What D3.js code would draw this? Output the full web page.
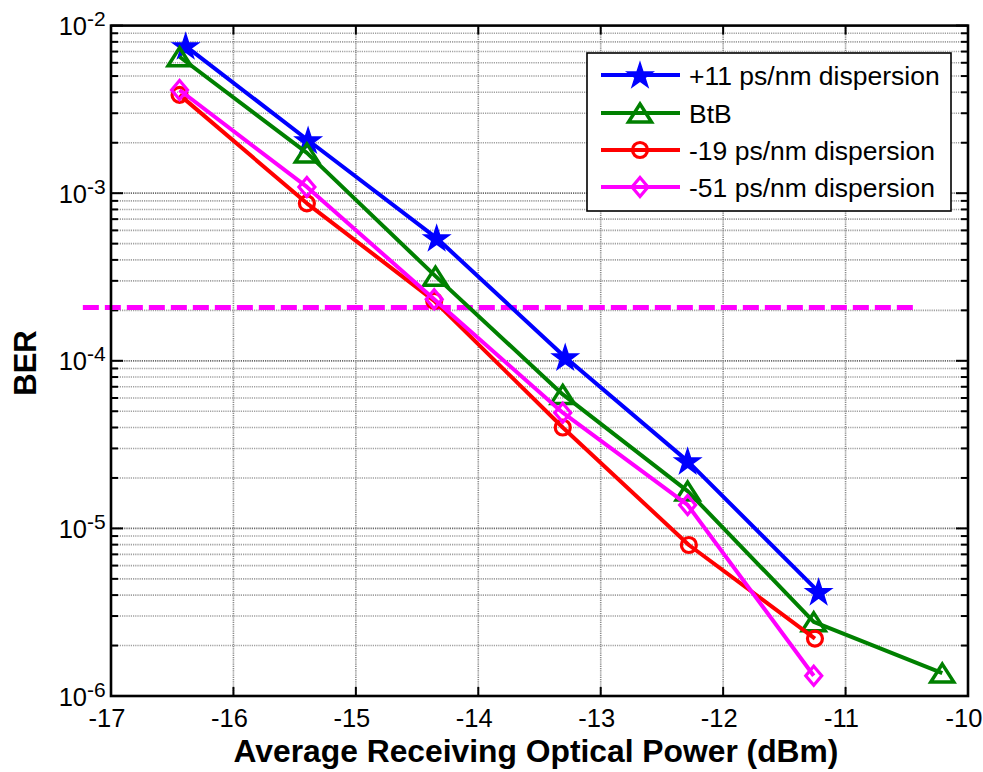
<!DOCTYPE html>
<html>
<head>
<meta charset="utf-8">
<script src="https://cdn.jsdelivr.net/npm/d3@7/dist/d3.min.js"></script>
<style>
  html, body { margin: 0; padding: 0; background: #fff; }
  svg { display: block; font-family: "Liberation Sans", Arial, sans-serif; }
</style>
</head>
<body>
<svg id="chart" width="983" height="772"></svg>
<script>
// BER versus received optical power for several dispersion settings
const seriesNames = ["+11 ps/nm dispersion", "BtB", "-19 ps/nm dispersion", "-51 ps/nm dispersion"];
const seriesColors = ["#0000ff", "#008000", "#ff0000", "#ff00ff"];
const seriesMarkers = ["star", "triangle", "circle", "diamond"];

const powerPlus11 = [-16.39, -15.39, -14.34, -13.29, -12.29, -11.22];
const berPlus11   = [7.55e-3, 2.07e-3, 5.4e-4, 1.05e-4, 2.52e-5, 4.18e-6];

const powerBtB = [-16.44, -15.40, -14.35, -13.31, -12.29, -11.26, -10.21];
const berBtB   = [6.52e-3, 1.74e-3, 3.2e-4, 6.3e-5, 1.67e-5, 2.77e-6, 1.37e-6];

const powerMinus19 = [-16.44, -15.40, -14.36, -13.31, -12.28, -11.25];
const berMinus19   = [3.86e-3, 8.7e-4, 2.28e-4, 4.0e-5, 7.96e-6, 2.2e-6];

const powerMinus51 = [-16.44, -15.40, -14.36, -13.31, -12.29, -11.26];
const berMinus51   = [4.13e-3, 1.09e-3, 2.33e-4, 4.9e-5, 1.38e-5, 1.32e-6];

// FEC threshold reference
const thresholdBER = 2.08e-4;
const thresholdSpan = [-17.23, -10.45];

const xTicks = [-17, -16, -15, -14, -13, -12, -11, -10];
const yDecades = [-6, -5, -4, -3, -2];
const xLabel = "Average Receiving Optical Power (dBm)";
const yLabel = "BER";

const series = [
  { x: powerPlus11,  y: berPlus11 },
  { x: powerBtB,     y: berBtB },
  { x: powerMinus19, y: berMinus19 },
  { x: powerMinus51, y: berMinus51 }
].map((s, i) => ({
  name: seriesNames[i], color: seriesColors[i], marker: seriesMarkers[i],
  points: s.x.map((v, j) => [v, s.y[j]])
}));

const svg = d3.select("#chart");
const pL = 111, pR = 968, pT = 25.6, pB = 696;

const x = d3.scaleLinear().domain([-17, -10]).range([pL, pR]);
const y = d3.scaleLog().domain([1e-6, 1e-2]).range([pB, pT]);

// grid
const minorVals = [];
for (let k = -6; k < -2; k++) for (let m = 2; m <= 9; m++) minorVals.push(m * Math.pow(10, k));
const majorVals = yDecades.map(d => Math.pow(10, d));

const grid = svg.append("g");
grid.selectAll("line.hm").data(minorVals).join("line")
  .attr("x1", pL).attr("x2", pR)
  .attr("y1", d => y(d)).attr("y2", d => y(d))
  .attr("stroke", "#a0a0a0").attr("stroke-width", 1.6).attr("stroke-dasharray", "1.2,1");
grid.selectAll("line.hM").data(majorVals.slice(1, -1)).join("line")
  .attr("x1", pL).attr("x2", pR)
  .attr("y1", d => y(d)).attr("y2", d => y(d))
  .attr("stroke", "#6a6a6a").attr("stroke-width", 1.8).attr("stroke-dasharray", "1.2,1");
grid.selectAll("line.v").data(xTicks.slice(1, -1)).join("line")
  .attr("x1", d => x(d)).attr("x2", d => x(d))
  .attr("y1", pT).attr("y2", pB)
  .attr("stroke", "#8a8a8a").attr("stroke-width", 1.6).attr("stroke-dasharray", "1.2,1");

// ticks (inside, on all four sides)
const tk = svg.append("g").attr("stroke", "#000").attr("stroke-width", 2);
[pL, pR].forEach(edge => {
  const dir = edge === pL ? 1 : -1;
  tk.append("g").selectAll("line").data(minorVals).join("line")
    .attr("x1", edge).attr("x2", edge + dir * 7)
    .attr("y1", d => y(d)).attr("y2", d => y(d));
  tk.append("g").selectAll("line").data(majorVals).join("line")
    .attr("x1", edge).attr("x2", edge + dir * 12)
    .attr("y1", d => y(d)).attr("y2", d => y(d));
});
[pB, pT].forEach(edge => {
  const dir = edge === pB ? -1 : 1;
  tk.append("g").selectAll("line").data(xTicks).join("line")
    .attr("x1", d => x(d)).attr("x2", d => x(d))
    .attr("y1", edge).attr("y2", edge + dir * 9);
});

// threshold line
svg.append("line")
  .attr("x1", x(thresholdSpan[0])).attr("x2", x(thresholdSpan[1]))
  .attr("y1", y(thresholdBER)).attr("y2", y(thresholdBER))
  .attr("stroke", "#ff00ff").attr("stroke-width", 5).attr("stroke-dasharray", "16,6");

// marker shapes
function drawMarker(g, type, color, cx, cy) {
  if (type === "star") {
    g.append("path")
      .attr("d", d3.symbol().type(d3.symbolStar).size(200)())
      .attr("transform", `translate(${cx},${cy + 1})`)
      .attr("fill", color).attr("stroke", color).attr("stroke-width", 1.5);
  } else if (type === "triangle") {
    const w = 11.5, h = 9;
    g.append("path")
      .attr("d", `M${cx},${cy - h} L${cx + w},${cy + h} L${cx - w},${cy + h} Z`)
      .attr("fill", "none").attr("stroke", color).attr("stroke-width", 3.5)
      .attr("stroke-linejoin", "miter");
  } else if (type === "circle") {
    g.append("circle").attr("cx", cx).attr("cy", cy).attr("r", 7.5)
      .attr("fill", "none").attr("stroke", color).attr("stroke-width", 3.2);
  } else if (type === "diamond") {
    const w = 8, h = 9.5;
    g.append("path")
      .attr("d", `M${cx},${cy - h} L${cx + w},${cy} L${cx},${cy + h} L${cx - w},${cy} Z`)
      .attr("fill", "none").attr("stroke", color).attr("stroke-width", 3.2);
  }
}

const line = d3.line().x(d => x(d[0])).y(d => y(d[1]));
const plot = svg.append("g");
series.forEach(s => {
  const g = plot.append("g");
  g.append("path").datum(s.points).attr("d", line)
    .attr("fill", "none").attr("stroke", s.color).attr("stroke-width", 4)
    .attr("stroke-linejoin", "round");
  s.points.forEach(p => drawMarker(g, s.marker, s.color, x(p[0]), y(p[1])));
});

// axes box
svg.append("rect").attr("x", pL).attr("y", pT)
  .attr("width", pR - pL).attr("height", pB - pT)
  .attr("fill", "none").attr("stroke", "#000").attr("stroke-width", 2.6);

// x tick labels
svg.append("g").selectAll("text").data(xTicks).join("text")
  .attr("x", d => x(d) - 4).attr("y", 727)
  .attr("text-anchor", "middle").attr("font-size", 25.5).attr("fill", "#000")
  .text(d => String(d));

// y tick labels as 10^k
const yl = svg.append("g");
yDecades.forEach(k => {
  const ty = y(Math.pow(10, k));
  yl.append("text").attr("x", 87).attr("y", ty + 9.5)
    .attr("text-anchor", "end").attr("font-size", 25.5).text("10");
  yl.append("text").attr("x", 87).attr("y", ty + 0.5)
    .attr("text-anchor", "start").attr("font-size", 21).text(String(k));
});

// axis titles
svg.append("text").attr("x", 536).attr("y", 762)
  .attr("text-anchor", "middle").attr("font-size", 31.8).attr("font-weight", "bold")
  .text(xLabel);
svg.append("text").attr("transform", "translate(36,363) rotate(-90)")
  .attr("text-anchor", "middle").attr("font-size", 31).attr("font-weight", "bold")
  .text(yLabel);

// legend
const lg = svg.append("g");
lg.append("rect").attr("x", 587).attr("y", 53).attr("width", 364).attr("height", 158)
  .attr("fill", "#fff").attr("stroke", "#000").attr("stroke-width", 1.6);
const rowY = [75, 113, 150, 187];
series.forEach((s, i) => {
  const ry = rowY[i];
  lg.append("line").attr("x1", 601).attr("x2", 680).attr("y1", ry).attr("y2", ry)
    .attr("stroke", s.color).attr("stroke-width", 4);
  drawMarker(lg, s.marker, s.color, 640, ry);
  lg.append("text").attr("x", 689).attr("y", ry + 9.5)
    .attr("font-size", 26.5).attr("fill", "#000").text(s.name);
});
</script>
</body>
</html>
